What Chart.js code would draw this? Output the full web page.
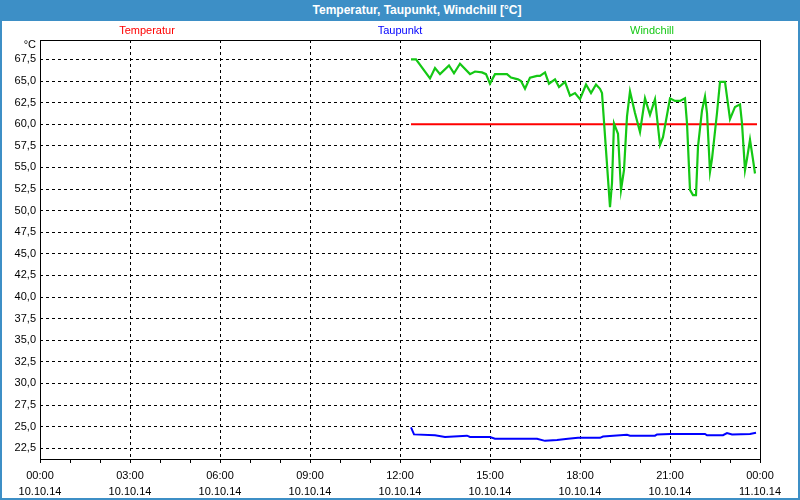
<!DOCTYPE html>
<html>
<head>
<meta charset="utf-8">
<script src="https://cdn.jsdelivr.net/npm/chart.js@4/dist/chart.umd.min.js"></script>
<style>
  body { margin: 0; background: #fff; }
  #frame {
    position: absolute; left: 0; top: 0; width: 800px; height: 500px;
    box-sizing: border-box; border: 2px solid #3d8fc6; border-top: none;
    background: #fff;
  }
  #titlebar {
    position: absolute; left: -2px; top: 0; width: 800px; height: 21px;
    background: #3d8fc6; color: #fff;
    font: bold 12px "Liberation Sans", Arial, sans-serif;
    line-height: 21px; text-align: center; box-sizing: border-box; padding-left: 34px;
  }
  #wrap { position: absolute; left: 0; top: 21px; width: 796px; height: 477px; }
</style>
</head>
<body>
<div id="frame">
  <div id="titlebar">Temperatur, Taupunkt, Windchill [°C]</div>
  <div id="wrap"><canvas id="myChart"></canvas></div>
</div>
<script>
// values
const seriesLabels = ['Temperatur', 'Taupunkt', 'Windchill'];
const seriesColors = ['#ff0000', '#0000ff', '#14c814'];

const tempTimes = ['12:22', '23:54'];
const tempValues = [60.0, 60.0];

const dewTimes = ['12:22', '12:28', '13:10', '13:30', '14:14', '14:20', '15:00', '15:10', '16:34', '16:50',
    '17:14', '17:36', '17:56', '18:40', '18:46', '19:34', '19:40', '20:30', '20:34', '21:00',
    '22:10', '22:14', '22:46', '22:54', '23:04', '23:40', '23:52'];
const dewValues = [24.9, 24.1, 24.0, 23.8, 23.95, 23.8, 23.8, 23.6, 23.6, 23.35,
    23.45, 23.6, 23.7, 23.7, 23.85, 24.05, 23.95, 23.95, 24.1, 24.15,
    24.15, 24.0, 24.0, 24.25, 24.1, 24.15, 24.3];

const chillTimes = ['12:22', '12:32', '13:00', '13:10', '13:20', '13:38', '13:48', '14:00', '14:20', '14:30',
    '14:44', '14:52', '15:00', '15:10', '15:34', '15:42', '15:56', '16:02', '16:10', '16:20',
    '16:34', '16:40', '16:50', '16:58', '17:10', '17:18', '17:30', '17:40', '17:50', '18:00',
    '18:12', '18:22', '18:32', '18:40', '18:44', '19:00', '19:04', '19:08', '19:12', '19:16',
    '19:22', '19:28', '19:34', '19:40', '19:50', '20:00', '20:10', '20:20', '20:30', '20:40',
    '20:46', '21:00', '21:10', '21:20', '21:30', '21:34', '21:40', '21:46', '21:52', '21:56',
    '22:04', '22:10', '22:14', '22:20', '22:24', '22:34', '22:40', '22:50', '23:00', '23:10',
    '23:20', '23:24', '23:30', '23:34', '23:40', '23:46', '23:50'];
const chillValues = [67.5, 67.5, 65.3, 66.5, 65.8, 66.8, 65.9, 67.0, 65.8, 66.1,
    66.0, 65.8, 64.7, 65.8, 65.8, 65.4, 65.2, 65.0, 64.1, 65.4,
    65.6, 65.6, 66.0, 64.7, 65.2, 64.3, 64.9, 63.3, 63.6, 62.9,
    64.6, 63.6, 64.6, 64.1, 63.6, 50.4, 53.2, 60.1, 59.5, 58.9,
    52.4, 54.7, 60.9, 63.8, 61.3, 59.1, 63.0, 61.1, 62.9, 57.6,
    58.5, 63.0, 62.7, 62.7, 63.0, 60.1, 52.4, 51.8, 51.8, 57.4,
    61.6, 63.2, 61.3, 54.5, 56.0, 61.3, 64.9, 64.9, 60.6, 62.0,
    62.3, 60.1, 54.7, 56.0, 58.2, 55.9, 54.3];

const yTicks = [22.5, 25, 27.5, 30, 32.5, 35, 37.5, 40, 42.5, 45, 47.5, 50, 52.5, 55, 57.5, 60, 62.5, 65, 67.5];
const xTickHours = [0, 3, 6, 9, 12, 15, 18, 21, 24];
const xTickDates = ['10.10.14', '10.10.14', '10.10.14', '10.10.14', '10.10.14', '10.10.14', '10.10.14', '10.10.14', '11.10.14'];

const FONT = '"Liberation Sans", Arial, sans-serif';

function toMinutes(t) {
    const p = t.split(':');
    return Number(p[0]) * 60 + Number(p[1]);
}
function points(times, values) {
    return times.map((t, i) => ({ x: toMinutes(t), y: values[i] }));
}

// coloured series names above the plot + "°C" unit + black frame
const decorPlugin = {
    id: 'decor',
    afterDraw: (chart) => {
        const ctx = chart.ctx;
        const a = chart.chartArea;
        const mid = (a.left + a.right) / 2;
        const offsets = [-253, 0, 252];
        ctx.save();
        ctx.font = '11px ' + FONT;
        ctx.textAlign = 'center';
        ctx.textBaseline = 'middle';
        seriesLabels.forEach((label, i) => {
            ctx.fillStyle = seriesColors[i];
            ctx.fillText(label, mid + offsets[i], 10);
        });
        ctx.fillStyle = '#000';
        ctx.textAlign = 'right';
        ctx.fillText('°C', a.left - 4, a.top + 5);
        ctx.strokeStyle = '#000';
        ctx.lineWidth = 1;
        ctx.strokeRect(Math.round(a.left) + 0.5, Math.round(a.top) + 0.5,
            Math.round(a.right - a.left), Math.round(a.bottom - a.top));
        ctx.restore();
    }
};

Chart.register(decorPlugin);

const ctx = document.getElementById('myChart').getContext('2d');
const myChart = new Chart(ctx, {
    type: 'line',
    data: {
        datasets: [
            {
                label: seriesLabels[0],
                data: points(tempTimes, tempValues),
                borderColor: seriesColors[0],
                borderWidth: 2,
                order: 3
            },
            {
                label: seriesLabels[1],
                data: points(dewTimes, dewValues),
                borderColor: seriesColors[1],
                borderWidth: 2,
                order: 2
            },
            {
                label: seriesLabels[2],
                data: points(chillTimes, chillValues),
                borderColor: seriesColors[2],
                borderWidth: 2.2,
                order: 1
            }
        ]
    },
    options: {
        responsive: true,
        maintainAspectRatio: false,
        animation: false,
        layout: { padding: { top: 19, right: 38, left: 0, bottom: 0 } },
        plugins: {
            legend: { display: false },
            tooltip: { enabled: false }
        },
        elements: {
            point: { radius: 0 },
            line: { tension: 0, fill: false }
        },
        scales: {
            x: {
                type: 'linear',
                min: 0,
                max: 1440,
                afterFit: (scale) => { scale.height = 39; },
                afterBuildTicks: (axis) => {
                    const t = [];
                    for (let h = 0; h <= 24; h++) t.push({ value: h * 60 });
                    axis.ticks = t;
                },
                ticks: {
                    autoSkip: false,
                    maxRotation: 0,
                    padding: 5,
                    color: '#000',
                    font: { family: FONT, size: 11, lineHeight: 1.45 },
                    callback: function(value) {
                        const h = value / 60;
                        const i = xTickHours.indexOf(h);
                        if (i < 0) return '';
                        const hh = String(h % 24).padStart(2, '0');
                        return [hh + ':00', xTickDates[i]];
                    }
                },
                grid: {
                    color: (c) => {
                        const v = c.tick ? c.tick.value : -1;
                        return (v % 180 === 0 && v > 0 && v < 1440) ? '#000' : 'rgba(0,0,0,0)';
                    },
                    lineWidth: 1,
                    drawTicks: true,
                    tickLength: 4,
                    tickColor: '#000'
                },
                border: { display: false, dash: [3, 3] }
            },
            y: {
                min: 21.25,
                max: 69.75,
                afterFit: (scale) => { scale.width = 38; },
                afterBuildTicks: (axis) => {
                    axis.ticks = yTicks.map(v => ({ value: v }));
                },
                ticks: {
                    padding: 4,
                    color: '#000',
                    font: { family: FONT, size: 11 },
                    callback: function(value) {
                        return value.toFixed(1).replace('.', ',');
                    }
                },
                grid: {
                    color: '#000',
                    lineWidth: 1,
                    drawTicks: false
                },
                border: { display: false, dash: [3, 3] }
            }
        }
    }
});
</script>
</body>
</html>
